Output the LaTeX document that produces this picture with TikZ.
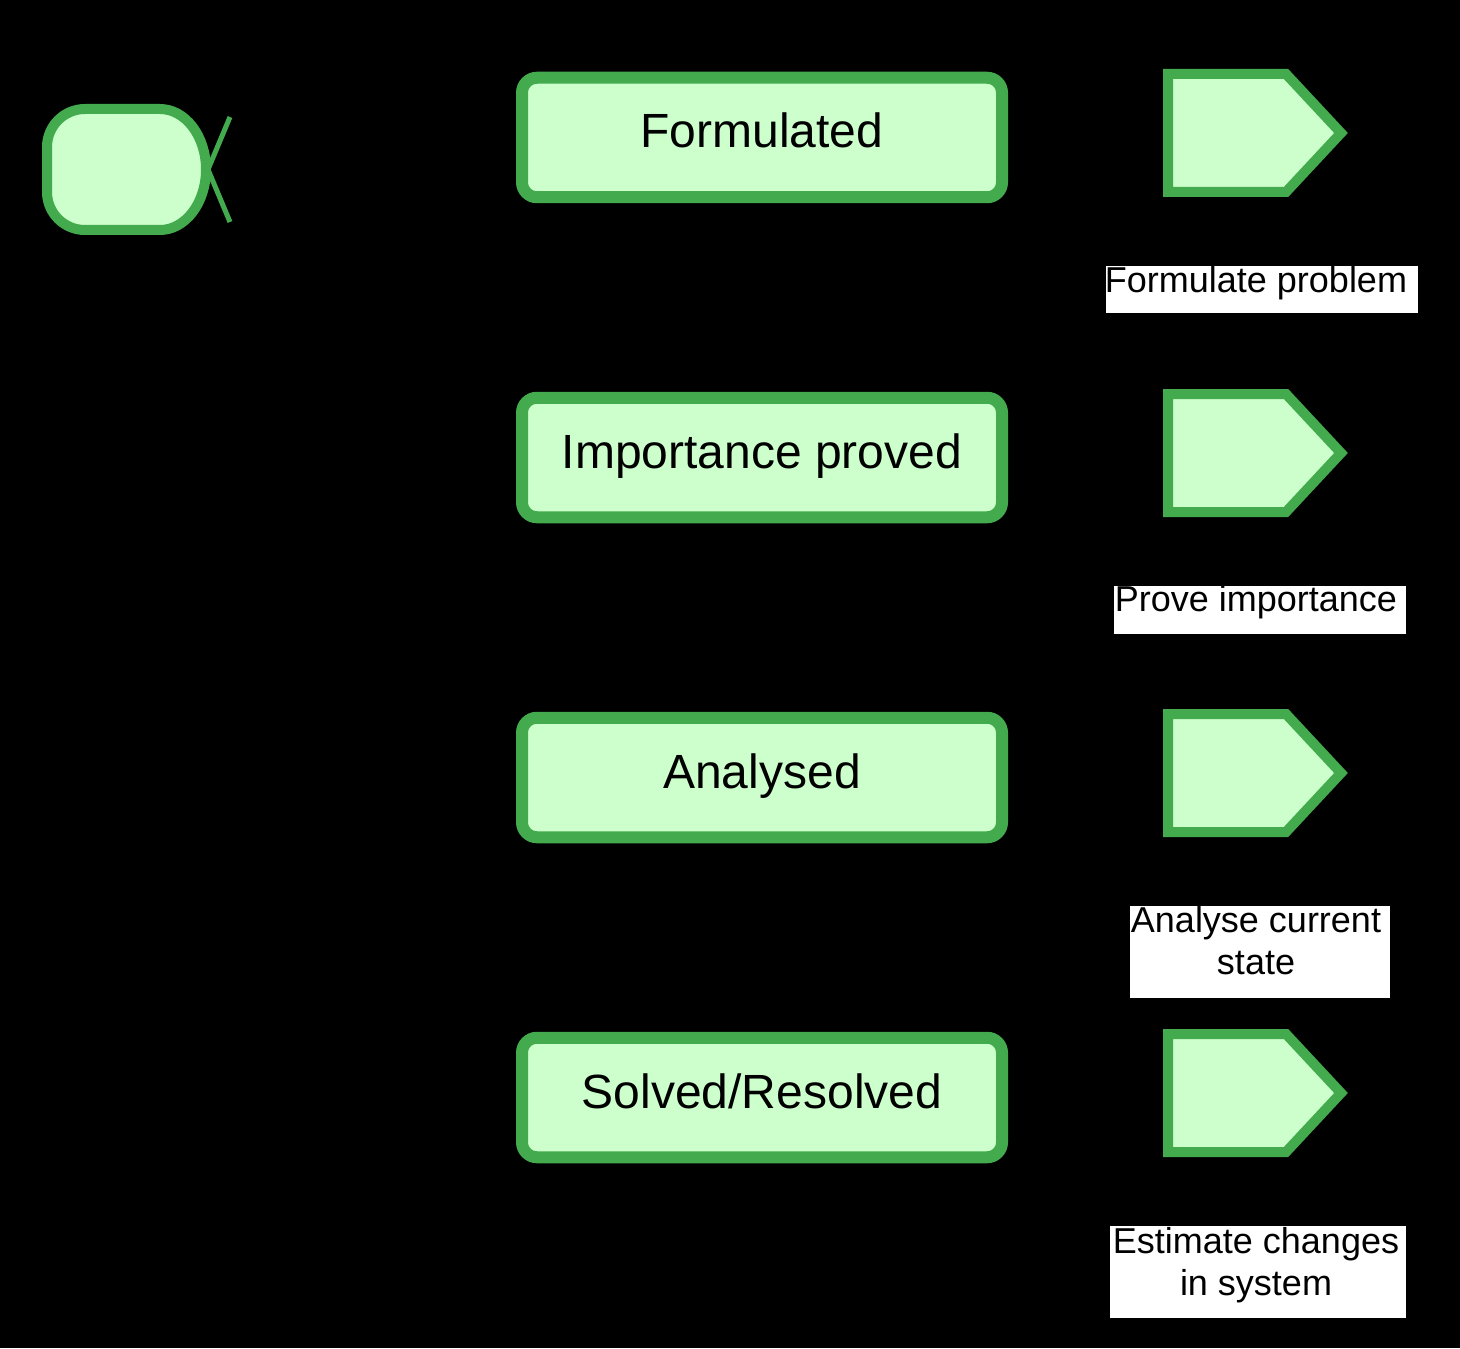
\documentclass[tikz,border=0pt]{standalone}
\usepackage{fontspec}
\setmainfont{Liberation Sans}
\definecolor{gstroke}{RGB}{67,171,78}
\definecolor{gfill}{RGB}{204,255,204}
\begin{document}
\begin{tikzpicture}[x=0.5pt,y=-0.5pt,
  statebox/.style={draw=gstroke,fill=gfill,line width=6pt,rounded corners=7.5pt,
    minimum width=240pt,minimum height=59.75pt,inner sep=0pt,
    font=\fontsize{24}{28.8}\selectfont,text height=15.5pt,text depth=5pt},
  evshape/.style={draw=gstroke,fill=gfill,line width=5pt,line join=miter},
  labbox/.style={fill=white,inner sep=0pt},
  labtext/.style={font=\fontsize{18}{21}\selectfont,align=center,inner sep=0pt,text=black}]
\useasboundingbox (0,0) rectangle (1460,1348);
\fill[black] (0,0) rectangle (1460,1348);

% left object shape
\draw[draw=gstroke,fill=gfill,line width=5pt]
  (85,109) -- (160,109) arc[start angle=-90,end angle=90,x radius=46,y radius=60.5]
  -- (85,230) arc[start angle=90,end angle=180,radius=38]
  -- (47,147) arc[start angle=180,end angle=270,radius=38] -- cycle;
\coordinate (xm) at (208,169.5);
\coordinate (xt) at (230,117);
\coordinate (xb) at (230,222);
\draw[gstroke,line width=2.5pt] (xt) -- (xm) -- (xb);

% state boxes
\node[statebox] (s1) at (762,137.5) {Formulated};
\node[statebox] (s2) at (762,457.5) {Importance proved};
\node[statebox] (s3) at (762,777.5) {Analysed};
\node[statebox] (s4) at (762,1097.5) {Solved/Resolved};

% event pentagons
\foreach \dy in {0,320,640,960}{
  \draw[evshape] (1168,74+\dy) -- (1286,74+\dy) -- (1341,133+\dy) -- (1286,192+\dy) -- (1168,192+\dy) -- cycle;
}

% labels
\node[labbox,minimum width=156pt,minimum height=23.5pt] (lb1) at (1262,289.5) {};
\node[labtext,anchor=base] (lt1) at (1256,292) {Formulate problem};
\node[labbox,minimum width=146pt,minimum height=24pt] (lb2) at (1260,610) {};
\node[labtext,anchor=base] (lt2) at (1256,611) {Prove importance};
\node[labbox,minimum width=130pt,minimum height=46pt] (lb3) at (1260,952) {};
\node[labtext] (lt3) at (1256,941) {Analyse current\\state};
\node[labbox,minimum width=148pt,minimum height=46pt] (lb4) at (1258,1272) {};
\node[labtext] (lt4) at (1256,1265) {Estimate changes\\in system};
\end{tikzpicture}
\end{document}
